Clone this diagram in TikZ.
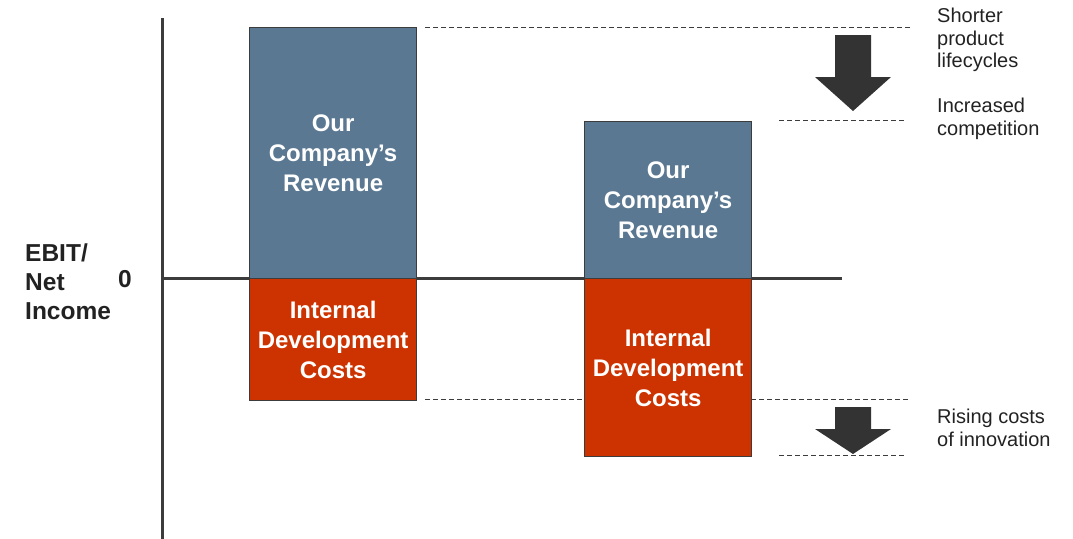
\documentclass[tikz,border=0pt]{standalone}
\usepackage{fontspec}
\setmainfont{Liberation Sans}
\definecolor{revblue}{HTML}{5A7891}
\definecolor{costred}{HTML}{CC3300}
\definecolor{edgegray}{HTML}{3C3C3C}
\definecolor{arrowgray}{HTML}{333333}
\definecolor{txtdark}{HTML}{222222}
\tikzset{
  barbox/.style={draw=edgegray, line width=1.2pt, anchor=north west, minimum width=167pt, inner sep=0pt, align=center, text=white, font=\bfseries\fontsize{24}{30}\selectfont},
  revbox/.style={barbox, fill=revblue},
  costbox/.style={barbox, fill=costred},
  guide/.style={draw=edgegray, line width=0.9pt, dash pattern=on 5pt off 3pt},
  axisline/.style={draw=edgegray, line width=3pt},
  downarrow/.style={fill=arrowgray, draw=none},
  sidelabel/.style={anchor=west, inner sep=0pt, align=left, text=txtdark, font=\fontsize{20}{22.8}\selectfont},
  axislabel/.style={anchor=west, inner sep=0pt, align=left, text=txtdark, font=\bfseries\fontsize{24.5}{29}\selectfont}
}
\begin{document}
\begin{tikzpicture}[x=1pt,y=-1pt]
\useasboundingbox (0,0) rectangle (1073,538);
% axes
\coordinate (vtop) at (162,18);
\coordinate (vbot) at (162,540);
\coordinate (hleft) at (162,278);
\coordinate (hright) at (842,278);
\draw[axisline] (vtop) -- (vbot);
\draw[axisline] (hleft) -- (hright);
% boxes
\node[revbox, minimum height=251pt] (r1) at (249,27) {Our\\Company’s\\Revenue};
\node[costbox, minimum height=122pt] (c1) at (249,278) {Internal\\Development\\Costs};
\node[revbox, minimum height=157pt] (r2) at (584,121) {Our\\Company’s\\Revenue};
\node[costbox, minimum height=178pt] (c2) at (584,278) {Internal\\Development\\Costs};
% guide lines
\coordinate (g1a) at (425,27.5);
\coordinate (g1b) at (910,27.5);
\coordinate (g2a) at (779,120.5);
\coordinate (g2b) at (905,120.5);
\coordinate (g3a) at (425,399.5);
\coordinate (g3b) at (584,399.5);
\coordinate (g3c) at (751,399.5);
\coordinate (g3d) at (910,399.5);
\coordinate (g4a) at (779,455.5);
\coordinate (g4b) at (905,455.5);
\draw[guide] (g1a) -- (g1b);
\draw[guide] (g2a) -- (g2b);
\draw[guide] (g3a) -- (g3b);
\draw[guide] (g3c) -- (g3d);
\draw[guide] (g4a) -- (g4b);
% arrows
\fill[downarrow] (835,35) -- (871,35) -- (871,77) -- (891,77) -- (853,111) -- (815,77) -- (835,77) -- cycle;
\fill[downarrow] (835,407) -- (871,407) -- (871,429) -- (891,429) -- (853,454) -- (815,429) -- (835,429) -- cycle;
% labels
\node[sidelabel] (l1) at (937,40) {Shorter\\product\\lifecycles};
\node[sidelabel] (l2) at (937,119) {Increased\\competition};
\node[sidelabel] (l3) at (937,428) {Rising costs\\of innovation};
\node[axislabel] (ebit) at (25,282) {EBIT/\\Net\\Income};
\node[axislabel] (zero) at (118,279) {0};
\end{tikzpicture}
\end{document}
